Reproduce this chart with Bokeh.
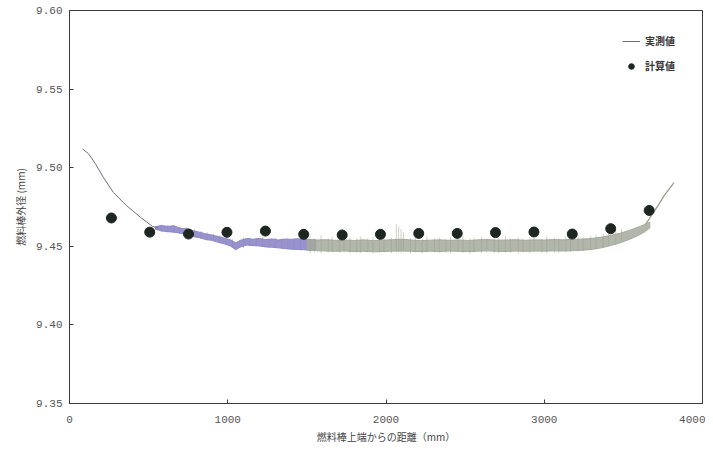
from bokeh.plotting import figure
from bokeh.models import Legend, LegendItem, FixedTicker, Range1d
from bokeh.embed import file_html
from bokeh.resources import INLINE

# ---- data ----
x_ticks = [0, 1000, 2000, 3000, 4000]
y_ticks = [9.35, 9.40, 9.45, 9.50, 9.55, 9.60]
y_tick_labels = ["9.35", "9.40", "9.45", "9.50", "9.55", "9.60"]

# computed values (計算値)
calc_x = [265, 507, 752, 995, 1238, 1480, 1723, 1965, 2207, 2450, 2692, 2935, 3177, 3420, 3663]
calc_y = [9.4680, 9.4590, 9.4578, 9.4589, 9.4597, 9.4576, 9.4572, 9.4576, 9.4582, 9.4582,
          9.4587, 9.4591, 9.4578, 9.4612, 9.4728]

# measured (実測値): smooth upper-end part
meas_head_x = [82, 120, 164, 215, 278, 360, 449, 524, 562]
meas_head_y = [9.5120, 9.5089, 9.5025, 9.4937, 9.4842, 9.4759, 9.4684, 9.4627, 9.4614]

# measured: noisy band, first (violet) part
band1_x = [540, 580, 620, 660, 700, 740, 780, 820, 860, 900, 940, 980, 1020, 1050, 1080,
           1120, 1160, 1200, 1240, 1280, 1320, 1360, 1400, 1440, 1480, 1520, 1560]
band1_lo = [9.4610, 9.4598, 9.4593, 9.4590, 9.4583, 9.4578, 9.4562, 9.4555, 9.4543, 9.4538,
            9.4525, 9.4515, 9.4500, 9.4478, 9.4495, 9.4508, 9.4505, 9.4502, 9.4496, 9.4494,
            9.4490, 9.4486, 9.4482, 9.4480, 9.4478, 9.4475, 9.4476]
band1_hi = [9.4625, 9.4632, 9.4627, 9.4630, 9.4615, 9.4612, 9.4600, 9.4590, 9.4580, 9.4572,
            9.4562, 9.4552, 9.4540, 9.4522, 9.4538, 9.4550, 9.4545, 9.4550, 9.4543, 9.4547,
            9.4540, 9.4546, 9.4544, 9.4548, 9.4545, 9.4542, 9.4540]

# measured: noisy band, second (grey) part
band2_x = [1500, 1560, 1620, 1680, 1740, 1800, 1860, 1920, 1980, 2040, 2100, 2160, 2220,
           2280, 2340, 2400, 2460, 2520, 2580, 2640, 2700, 2760, 2820, 2880, 2940, 3000,
           3060, 3120, 3180, 3240, 3300, 3360, 3420, 3480, 3540, 3600, 3640, 3670]
band2_lo = [9.4476, 9.4472, 9.4470, 9.4468, 9.4470, 9.4466, 9.4468, 9.4465, 9.4467, 9.4469,
            9.4470, 9.4468, 9.4466, 9.4469, 9.4467, 9.4470, 9.4468, 9.4466, 9.4469, 9.4471,
            9.4468, 9.4467, 9.4470, 9.4468, 9.4470, 9.4469, 9.4471, 9.4470, 9.4472, 9.4475,
            9.4480, 9.4490, 9.4505, 9.4522, 9.4545, 9.4572, 9.4595, 9.4620]
band2_hi = [9.4545, 9.4540, 9.4542, 9.4538, 9.4540, 9.4537, 9.4541, 9.4536, 9.4539, 9.4542,
            9.4545, 9.4540, 9.4536, 9.4539, 9.4541, 9.4538, 9.4540, 9.4537, 9.4541, 9.4543,
            9.4539, 9.4540, 9.4542, 9.4538, 9.4541, 9.4540, 9.4543, 9.4541, 9.4544, 9.4546,
            9.4550, 9.4558, 9.4570, 9.4583, 9.4602, 9.4625, 9.4640, 9.4655]

# measured: noise spikes, violet part
spike1_x = [580, 620, 660, 700, 740, 790, 830, 870, 910, 950, 990,
            1030, 1100, 1140, 1180, 1220, 1260, 1300, 1340, 1380, 1420, 1460]
spike1_lo = [9.4592, 9.4588, 9.4585, 9.4578, 9.4572, 9.4557, 9.4550, 9.4538, 9.4532, 9.4520, 9.4510,
             9.4492, 9.4488, 9.4500, 9.4498, 9.4495, 9.4490, 9.4488, 9.4484, 9.4480, 9.4476, 9.4474]
spike1_hi = [9.4638, 9.4635, 9.4636, 9.4625, 9.4620, 9.4608, 9.4598, 9.4588, 9.4580, 9.4570, 9.4560,
             9.4546, 9.4556, 9.4558, 9.4552, 9.4560, 9.4550, 9.4556, 9.4548, 9.4555, 9.4552, 9.4558]

# measured: noise spikes, grey part
spike2_x = [1520, 1548, 1590, 1635, 1660, 1708, 1735, 1772, 1815, 1840,
            1885, 1918, 1960, 1988, 2034, 2065, 2080, 2095, 2110, 2155,
            2186, 2229, 2258, 2306, 2337, 2379, 2408, 2455, 2486, 2530,
            2556, 2604, 2637, 2684, 2712, 2755, 2786, 2836, 2866, 2909,
            2936, 2985, 3016, 3064, 3092, 3136, 3166, 3214, 3246, 3294,
            3328, 3372, 3408, 3452, 3488]
spike2_lo = [9.4458, 9.4462, 9.4455, 9.4460, 9.4463, 9.4457, 9.4461, 9.4456, 9.4460, 9.4458,
             9.4462, 9.4455, 9.4459, 9.4461, 9.4457, 9.4462, 9.4460, 9.4458, 9.4461, 9.4456,
             9.4460, 9.4455, 9.4459, 9.4462, 9.4457, 9.4460, 9.4456, 9.4461, 9.4458, 9.4455,
             9.4460, 9.4457, 9.4462, 9.4458, 9.4456, 9.4461, 9.4459, 9.4455, 9.4460, 9.4457,
             9.4462, 9.4458, 9.4456, 9.4460, 9.4459, 9.4462, 9.4464, 9.4466, 9.4470, 9.4474,
             9.4480, 9.4490, 9.4500, 9.4515, 9.4530]
spike2_hi = [9.4565, 9.4552, 9.4570, 9.4550, 9.4560, 9.4548, 9.4572, 9.4555, 9.4550, 9.4562,
             9.4553, 9.4558, 9.4549, 9.4566, 9.4556, 9.4640, 9.4625, 9.4610, 9.4590, 9.4552,
             9.4560, 9.4549, 9.4563, 9.4551, 9.4557, 9.4548, 9.4561, 9.4553, 9.4567, 9.4550,
             9.4555, 9.4562, 9.4549, 9.4558, 9.4552, 9.4565, 9.4551, 9.4556, 9.4549, 9.4560,
             9.4553, 9.4548, 9.4562, 9.4555, 9.4550, 9.4566, 9.4553, 9.4560, 9.4557, 9.4568,
             9.4575, 9.4580, 9.4590, 9.4598, 9.4610]

# measured: smooth lower-end part
meas_tail_x = [3640, 3680, 3720, 3760, 3790, 3820]
meas_tail_y = [9.4640, 9.4700, 9.4760, 9.4825, 9.4865, 9.4905]

# ---- figure ----
p = figure(width=705, height=446, output_backend="svg", toolbar_location=None,
           x_range=Range1d(0, 4000), y_range=Range1d(9.35, 9.60),
           min_border_left=69, min_border_right=3, min_border_top=10, min_border_bottom=41)
p.background_fill_color = "white"
p.border_fill_color = "white"
p.outline_line_color = "#3a3a3a"
p.outline_line_width = 1
p.xgrid.visible = False
p.ygrid.visible = False

violet = "#8d87c6"
grey = "#a6aa9c"

p.varea(x=band1_x, y1=band1_lo, y2=band1_hi, fill_color=violet, fill_alpha=0.9)
p.line(x=band1_x, y=band1_lo, line_color=violet, line_width=1)
p.line(x=band1_x, y=band1_hi, line_color=violet, line_width=1)
p.segment(x0=spike1_x, y0=spike1_lo, x1=spike1_x, y1=spike1_hi, line_color=violet,
          line_width=0.8, line_alpha=0.6)
p.varea(x=band2_x, y1=band2_lo, y2=band2_hi, fill_color=grey, fill_alpha=0.85)
p.line(x=band2_x, y=band2_lo, line_color=grey, line_width=1)
p.line(x=band2_x, y=band2_hi, line_color=grey, line_width=1)
p.segment(x0=spike2_x, y0=spike2_lo, x1=spike2_x, y1=spike2_hi, line_color="#9a9e8e",
          line_width=0.8, line_alpha=0.6)
r_line = p.line(x=meas_head_x, y=meas_head_y, line_color="#6f6f7e", line_width=1)
p.line(x=meas_tail_x, y=meas_tail_y, line_color="#9a9e90", line_width=1.3)

r_dots = p.scatter(x=calc_x, y=calc_y, size=10, fill_color="#1e2622", line_color="#1e2622")

# axes
tick_font = "Liberation Mono"
for ax in (p.xaxis[0], p.yaxis[0]):
    ax.axis_line_color = "#3a3a3a"
    ax.major_tick_line_color = "#3a3a3a"
    ax.major_tick_in = 4
    ax.major_tick_out = 0
    ax.minor_tick_line_color = None
    ax.major_label_text_font = tick_font
    ax.major_label_text_font_size = "11px"
    ax.major_label_text_color = "#555555"
    ax.axis_label_text_font = "Noto Sans CJK JP"
    ax.axis_label_text_font_size = "10px"
    ax.axis_label_text_font_style = "normal"
    ax.axis_label_text_color = "#444444"

p.xaxis.ticker = FixedTicker(ticks=x_ticks)
p.yaxis.ticker = FixedTicker(ticks=y_ticks)
p.yaxis.major_label_overrides = {t: s for t, s in zip(y_ticks, y_tick_labels)}
p.xaxis.major_label_standoff = 12
p.yaxis.major_label_standoff = 7
p.xaxis.axis_label = "燃料棒上端からの距離（mm）"
p.yaxis.axis_label = "燃料棒外径 (mm)"
p.xaxis.axis_label_standoff = 3
p.yaxis.axis_label_standoff = 5

legend = Legend(items=[LegendItem(label="実測値", renderers=[r_line]),
                       LegendItem(label="計算値", renderers=[r_dots])],
                location=(553, 330), border_line_color=None, background_fill_alpha=0,
                label_text_font="Noto Sans CJK JP", label_text_font_size="10px",
                label_text_font_style="bold", label_text_color="#333333",
                glyph_width=18, glyph_height=14, label_height=14, spacing=10,
                padding=6, margin=0)
p.add_layout(legend)

open("out.html", "w").write(file_html(p, INLINE))
